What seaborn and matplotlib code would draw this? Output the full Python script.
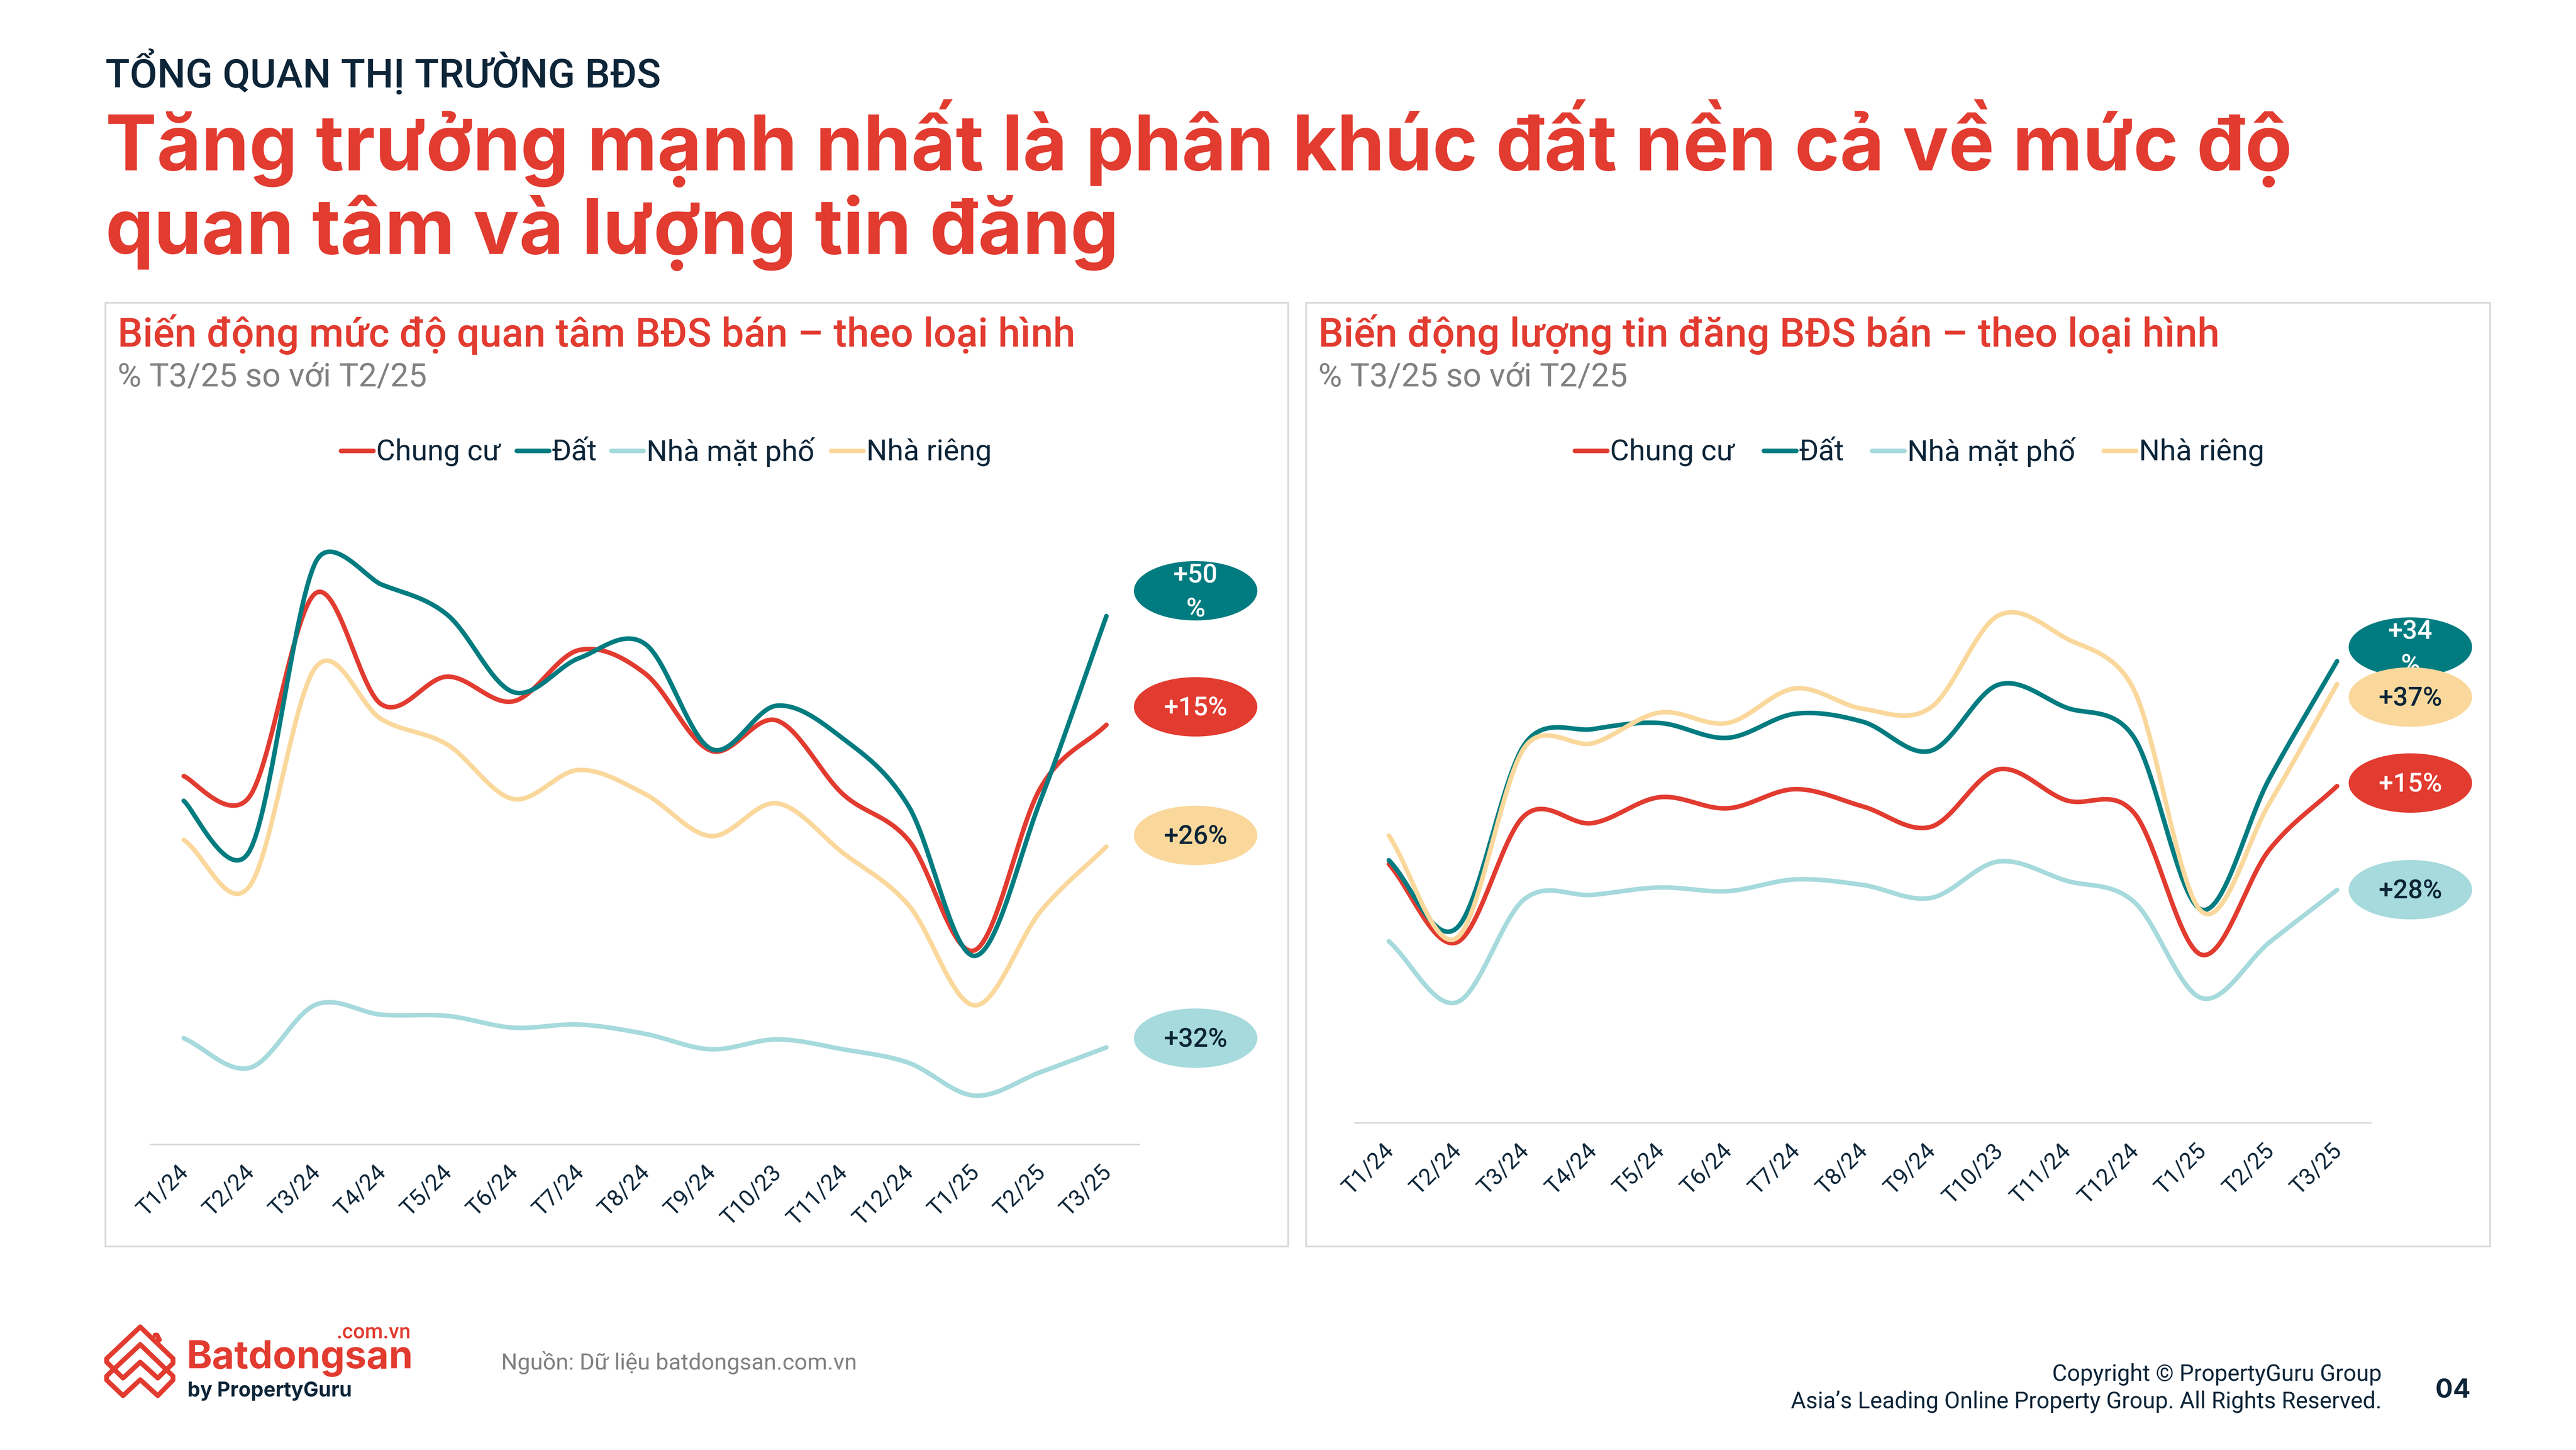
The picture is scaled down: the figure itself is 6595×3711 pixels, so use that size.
import numpy as np
import pandas as pd
import seaborn as sns
import matplotlib.pyplot as plt
from matplotlib.patches import Ellipse, Rectangle
from matplotlib.transforms import ScaledTranslation

W, H = 6596, 3712
DPI = 400

RED = "#E23B30"
TEAL = "#007C80"
AQUA = "#A6DADC"
SAND = "#FAD89C"
NAVY = "#0D2538"
GREY = "#808080"
LINE_GREY = "#D9D9D9"

months = ["T1/24", "T2/24", "T3/24", "T4/24", "T5/24", "T6/24", "T7/24", "T8/24",
          "T9/24", "T10/23", "T11/24", "T12/24", "T1/25", "T2/25", "T3/25"]
types = ["Chung cư", "Đất", "Nhà mặt phố", "Nhà riêng"]

# index values, height above the baseline
left_chungcu = [596, 563, 892, 712, 757, 717, 800, 762, 637, 686, 567, 492, 314, 577, 679]
left_dat = [556, 475, 942, 906, 857, 732, 787, 810, 640, 710, 657, 547, 305, 557, 855]
left_matpho = [172, 124, 226, 210, 208, 189, 194, 179, 154, 170, 154, 132, 79, 117, 157]
left_rieng = [493, 418, 772, 688, 647, 559, 606, 567, 499, 552, 472, 387, 225, 377, 482]

right_chungcu = [419, 292, 497, 485, 527, 509, 540, 512, 479, 572, 522, 502, 272, 442, 545]
right_dat = [425, 315, 612, 637, 647, 623, 662, 649, 602, 709, 672, 624, 345, 557, 747]
right_matpho = [294, 195, 362, 369, 381, 375, 394, 385, 364, 423, 392, 358, 202, 292, 377]
right_rieng = [465, 299, 607, 614, 664, 647, 703, 670, 672, 821, 784, 701, 342, 517, 710]

left_badges = ["+50\n%", "+15%", "+26%", "+32%"]
right_badges = ["+34\n%", "+37%", "+15%", "+28%"]

palette = {"Chung cư": RED, "Đất": TEAL, "Nhà mặt phố": AQUA, "Nhà riêng": SAND}


def smooth(values, x_step, y_scale, n=24):
    # bezier handles the way a spreadsheet "smoothed line" picks them, lengths in pixels
    pts = np.column_stack([np.arange(len(values)) * x_step, np.array(values, float) * y_scale])
    curve = [pts[0]]
    last = len(pts) - 1
    for i in range(last):
        p0, p1, p2, p3 = pts[max(i - 1, 0)], pts[i], pts[i + 1], pts[min(i + 2, last)]
        d02 = np.linalg.norm(p2 - p0)
        d12 = np.linalg.norm(p2 - p1)
        d13 = np.linalg.norm(p3 - p1)
        if d02 / 6 < d12 / 2 and d13 / 6 < d12 / 2:
            f1 = 1 / 3 if i == 0 else 1 / 6
            f2 = 1 / 3 if i == last - 1 else 1 / 6
        elif d02 / 6 >= d12 / 2 and d13 / 6 >= d12 / 2:
            f1 = 0.5 * d12 / d02
            f2 = 0.5 * d12 / d13
        elif d02 / 6 >= d12 / 2:
            f1 = 0.5 * d12 / d02
            f2 = 0.5 * d12 / d02
        else:
            f1 = 0.5 * d12 / d13
            f2 = 0.5 * d12 / d13
        c1 = p1 + (p2 - p0) * f1
        c2 = p2 - (p3 - p1) * f2
        for t in np.linspace(0, 1, n + 1)[1:]:
            curve.append((1 - t) ** 3 * p1 + 3 * (1 - t) ** 2 * t * c1
                         + 3 * (1 - t) * t ** 2 * c2 + t ** 3 * p2)
    curve = np.array(curve)
    return curve[:, 0] / x_step, curve[:, 1] / y_scale


def long_frame(series, x_step):
    frames = []
    for name, values in zip(types, series):
        xs, ys = smooth(values, x_step, 1.58)
        frames.append(pd.DataFrame({"x": xs, "y": ys, "type": name}))
    return pd.concat(frames, ignore_index=True)


sns.set_theme(style="white")
plt.rcParams["font.family"] = ["Roboto", "DejaVu Sans"]

fig = plt.figure(figsize=(W / DPI, H / DPI), dpi=DPI, facecolor="white")

# page layer in pixels for text, frames and badges
page = fig.add_axes([0, 0, 1, 1], zorder=3)
page.set_xlim(0, W)
page.set_ylim(H, 0)
page.axis("off")
page.patch.set_alpha(0)


def chart_axes(x0, x1, base, top):
    return fig.add_axes([x0 / W, 1 - base / H, (x1 - x0) / W, (base - top) / H], zorder=2)


def draw_chart(ax, series, ymax, x_step):
    sns.lineplot(data=long_frame(series, x_step), x="x", y="y", hue="type", palette=palette,
                 hue_order=types, ax=ax, linewidth=2.1, sort=False, errorbar=None,
                 estimator=None, legend=False, solid_capstyle="round")
    ax.set_xlim(-0.5, len(months) - 0.5)
    ax.set_ylim(0, ymax)
    ax.set_xticks(range(len(months)))
    ax.set_xticklabels(months, rotation=45, ha="right", rotation_mode="anchor",
                       fontsize=10.6, color=NAVY)
    ax.tick_params(axis="x", length=0, pad=6)
    shift = ScaledTranslation(-17 / DPI, -8 / DPI, fig.dpi_scale_trans)
    for label in ax.get_xticklabels():
        label.set_transform(label.get_transform() + shift)
    ax.set_yticks([])
    ax.set_xlabel("")
    ax.set_ylabel("")
    sns.despine(ax=ax, left=True)
    ax.spines["bottom"].set_color(LINE_GREY)
    ax.spines["bottom"].set_linewidth(0.7)
    ax.patch.set_alpha(0)


ax_left = chart_axes(386, 2917, 2930, 1100)
draw_chart(ax_left, [left_chungcu, left_dat, left_matpho, left_rieng], 1157, 169)
ax_right = chart_axes(3469, 6070, 2875, 1100)
draw_chart(ax_right, [right_chungcu, right_dat, right_matpho, right_rieng], 1122, 173.5)

# frames
for x0, x1 in [(270, 3298), (3344, 6375)]:
    page.add_patch(Rectangle((x0, 776), x1 - x0, 2415, fill=False, ec=LINE_GREY, lw=0.8))

# heading
page.text(270, 186, "TỔNG QUAN THỊ TRƯỜNG BĐS", fontsize=18.4, color=NAVY, va="center", fontweight="medium")
page.text(270, 367, "Tăng trưởng mạnh nhất là phân khúc đất nền cả về mức độ",
          fontsize=35.4, color=RED, fontweight="bold", va="center", family=["Inter", "DejaVu Sans"])
page.text(270, 596, "quan tâm và lượng tin đăng",
          fontsize=35.4, color=RED, fontweight="bold", va="center", family=["Inter", "DejaVu Sans"])

# panel titles
for x, title in [(301, "Biến động mức độ quan tâm BĐS bán – theo loại hình"),
                 (3375, "Biến động lượng tin đăng BĐS bán – theo loại hình")]:
    page.text(x, 856, title, fontsize=18.44, color=RED, fontweight="medium", va="center")
    page.text(x, 966, "% T3/25 so với T2/25", fontsize=15, color=GREY, va="center")

# legends
legend_items = {
    "left": [(873, "Chung cư"), (1323, "Đất"), (1565, "Nhà mặt phố"), (2128, "Nhà riêng")],
    "right": [(4032, "Chung cư"), (4516, "Đất"), (4793, "Nhà mặt phố"), (5386, "Nhà riêng")],
}
for items in legend_items.values():
    for x, name in items:
        page.plot([x, x + 83], [1155, 1155], color=palette[name], lw=2.1, solid_capstyle="round")
        page.text(x + 90, 1157, name, fontsize=13.5, color=NAVY, va="center")


def badge(x, y, text, fc, tc, z):
    page.add_patch(Ellipse((x, y), 316, 152, fc=fc, ec="none", zorder=z))
    page.text(x, y + 4, text, fontsize=12.1, color=tc, ha="center", va="center",
              linespacing=1.45, zorder=z + 0.1, fontweight="medium")


for y, text, fc, tc in zip([1513, 1810, 2139, 2658], left_badges,
                           [TEAL, RED, SAND, AQUA], ["white", "white", NAVY, NAVY]):
    badge(3061, y, text, fc, tc, 5)
for y, text, fc, tc, z in zip([1657, 1785, 2005, 2278], right_badges,
                              [TEAL, SAND, RED, AQUA], ["white", NAVY, "white", NAVY],
                              [5, 6, 5, 5]):
    badge(6171, y, text, fc, tc, z)

# logo mark, two interlocked outlines and a chimney
logo_upper = [(359, 3397), (443, 3478), (443, 3490), (404, 3528), (359, 3487), (315, 3528),
              (273, 3487), (273, 3478), (359, 3397)]
logo_lower = [(359, 3442), (281, 3515), (273, 3523), (273, 3533), (315, 3573), (359, 3532),
              (404, 3573), (443, 3533), (443, 3523), (359, 3442)]
logo_chimney = [(397, 3418), (402, 3418), (408, 3430)]
for path in [logo_upper, logo_lower, logo_chimney]:
    xs, ys = zip(*path)
    page.plot(xs, ys, color=RED, lw=2.2, solid_joinstyle="round")
page.text(478, 3502, "Batdongsan", fontsize=17.8, color=RED, fontweight="bold", va="baseline",
          family=["Inter", "DejaVu Sans"])
page.text(1052, 3426, ".com.vn", fontsize=9.6, color=RED, fontweight="medium", ha="right", va="baseline")
page.text(480, 3574, "by PropertyGuru", fontsize=9.3, color=NAVY, fontweight="bold", va="baseline",
          family=["Inter", "DejaVu Sans"])

# footer
page.text(1283, 3487, "Nguồn: Dữ liệu batdongsan.com.vn", fontsize=10.5, color=GREY, va="center")
page.text(6098, 3517, "Copyright © PropertyGuru Group", fontsize=10.56, color=NAVY, ha="right", va="center")
page.text(6098, 3587, "Asia’s Leading Online Property Group. All Rights Reserved.", fontsize=10.56,
          color=NAVY, ha="right", va="center")
page.text(6325, 3560, "04", fontsize=12, color=NAVY, fontweight="bold", ha="right", va="center",
          family=["Inter", "DejaVu Sans"])

fig.savefig("out.png", dpi=DPI)
